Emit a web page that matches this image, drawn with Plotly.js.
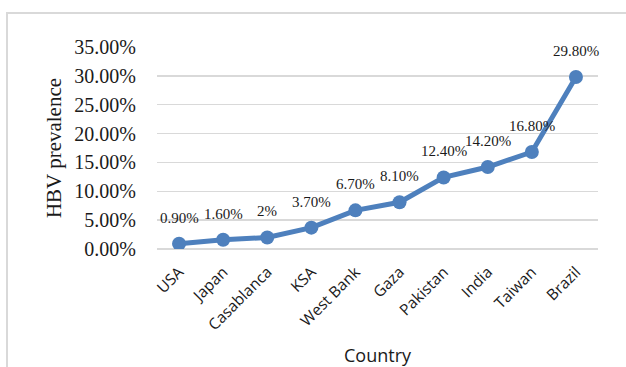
<!DOCTYPE html>
<html>
<head>
<meta charset="utf-8">
<script src="https://cdn.plot.ly/plotly-3.0.1.min.js"></script>
<style>
html,body{margin:0;padding:0;background:#fff;}
#wrap{position:relative;width:626px;height:367px;overflow:hidden;}
#frame{position:absolute;left:6px;top:12px;width:700px;height:400px;border-left:2px solid #d9d9d9;border-top:2px solid #d9d9d9;box-sizing:border-box;pointer-events:none;}
#chart{position:absolute;left:0;top:0;width:626px;height:367px;}
</style>
</head>
<body>
<div id="wrap">
<div id="chart"></div>
<div id="frame"></div>
</div>
<script>
const countries = ["USA","Japan","Casablanca","KSA","West Bank","Gaza","Pakistan","India","Taiwan","Brazil"];
const prevalence = [0.009,0.016,0.02,0.037,0.067,0.081,0.124,0.142,0.168,0.298];
const valueLabels = ["0.90%","1.60%","2%","3.70%","6.70%","8.10%","12.40%","14.20%","16.80%","29.80%"];
const yTickVals = [0,0.05,0.10,0.15,0.20,0.25,0.30,0.35];
const yTickText = ["0.00%","5.00%","10.00%","15.00%","20.00%","25.00%","30.00%","35.00%"];

const blue = "#4e80bd";
const serif = "Liberation Serif, Times New Roman, serif";
const sans = "Open Sans, Liberation Sans, sans-serif";

const trace = {
  x: countries,
  y: prevalence,
  type: "scatter",
  mode: "lines+markers",
  line: {color: blue, width: 5},
  marker: {color: blue, size: 14},
  hoverinfo: "none"
};

const annotations = countries.map((c, i) => ({
  x: c, y: prevalence[i], xref: "x", yref: "y",
  text: valueLabels[i], showarrow: false,
  yshift: 26,
  font: {family: serif, size: 15, color: "#1a1a1a"}
}));

const layout = {
  width: 626, height: 367,
  margin: {l: 157, r: 28, t: 47, b: 118},
  paper_bgcolor: "rgba(0,0,0,0)",
  plot_bgcolor: "rgba(0,0,0,0)",
  showlegend: false,
  xaxis: {
    type: "category",
    range: [-0.5, 9.5],
    tickangle: -45,
    tickfont: {family: sans, size: 15.5, color: "#1a1a1a"},
    showgrid: false, showline: false, zeroline: false, ticks: "",
    ticklabelstandoff: 10,
    title: {text: "Country", font: {family: sans, size: 18, color: "#1a1a1a"}, standoff: 22}
  },
  yaxis: {
    range: [0, 0.35],
    tickvals: yTickVals,
    ticktext: yTickText,
    tickfont: {family: serif, size: 20, color: "#1a1a1a"},
    gridcolor: "#d9d9d9", gridwidth: 1.5,
    zeroline: true, zerolinecolor: "#d9d9d9", zerolinewidth: 1.5,
    showline: false, ticks: "", ticklen: 0,
    ticklabelstandoff: 20,
    title: {text: "HBV prevalence", font: {family: serif, size: 21, color: "#1a1a1a"}, standoff: 6}
  },
  annotations: annotations
};

Plotly.newPlot("chart", [trace], layout, {staticPlot: true, displayModeBar: false});
</script>
</body>
</html>
